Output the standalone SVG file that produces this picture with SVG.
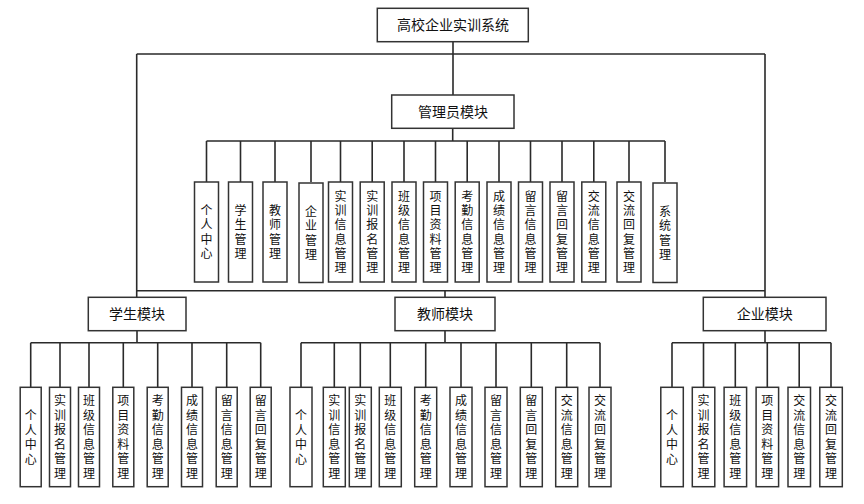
<svg xmlns="http://www.w3.org/2000/svg" width="864" height="504" viewBox="0 0 864 504">
<style>
.box{fill:#fff;stroke:#333;stroke-width:1.5}
.t{font-family:"Liberation Sans","Noto Sans CJK SC",sans-serif;font-size:14px;text-anchor:middle;fill:#111}
.v{font-family:"Liberation Sans","Noto Sans CJK SC",sans-serif;font-size:12px;text-anchor:middle;fill:#111}
.c{stroke:#2a2a2a;stroke-width:1.6;fill:none}
</style>
<rect width="864" height="504" fill="#fff"/>
<g id="connectors">
<path class="c" d="M453,41.7V95 M136.7,54H765 M136.7,54V297 M765,54V297 M136.7,290.7H765 M445,290.7V297"/>
<path class="c" d="M452.7,128.3V141 M206.5,141H665 M206.5,141V182 M240.5,141V182 M275,141V182 M311,141V182 M340.5,141V182 M372.2,141V182 M404,141V182 M435.5,141V182 M467.2,141V182 M499,141V182 M530.5,141V182 M562,141V182 M593.8,141V182 M629,141V182 M665,141V182"/>
<path class="c" d="M137,330.7V342.7 M30.7,342.7H260.7 M30.7,342.7V387.3 M60,342.7V387.3 M89,342.7V387.3 M123.3,342.7V387.3 M157.7,342.7V387.3 M192,342.7V387.3 M226.7,342.7V387.3 M260.7,342.7V387.3"/>
<path class="c" d="M445,330.7V342.7 M301,342.7H600 M301,342.7V387.3 M334.3,342.7V387.3 M360.3,342.7V387.3 M390.3,342.7V387.3 M425.7,342.7V387.3 M461,342.7V387.3 M496,342.7V387.3 M531.3,342.7V387.3 M566.7,342.7V387.3 M600,342.7V387.3"/>
<path class="c" d="M765,330.7V342.7 M672,342.7H831 M672,342.7V387.3 M703.5,342.7V387.3 M735.3,342.7V387.3 M767.3,342.7V387.3 M799.2,342.7V387.3 M831,342.7V387.3"/>
</g>
<g id="root"><rect class="box" x="377.3" y="8.3" width="151" height="33.4"/><text class="t" x="453" y="30">高校企业实训系统</text></g>
<g id="admin"><rect class="box" x="391.7" y="95" width="122.3" height="33.3"/><text class="t" x="453" y="116.7">管理员模块</text></g>
<g id="student"><rect class="box" x="88.3" y="297.3" width="97.7" height="33.4"/><text class="t" x="137" y="319">学生模块</text></g>
<g id="teacher"><rect class="box" x="395" y="297.3" width="100" height="33.4"/><text class="t" x="445" y="319">教师模块</text></g>
<g id="enterprise"><rect class="box" x="703.3" y="297.3" width="122.7" height="33.4"/><text class="t" x="764.7" y="319">企业模块</text></g>

<g id="a1"><rect class="box" x="194.5" y="182" width="24" height="100"/><text class="v"><tspan x="206.5" y="215">个</tspan><tspan x="206.5" y="229.3">人</tspan><tspan x="206.5" y="243.6">中</tspan><tspan x="206.5" y="257.9">心</tspan></text></g>
<g id="a2"><rect class="box" x="228.5" y="182" width="24" height="100"/><text class="v"><tspan x="240.5" y="215">学</tspan><tspan x="240.5" y="229.3">生</tspan><tspan x="240.5" y="243.6">管</tspan><tspan x="240.5" y="257.9">理</tspan></text></g>
<g id="a3"><rect class="box" x="263" y="182" width="24" height="100"/><text class="v"><tspan x="275" y="215">教</tspan><tspan x="275" y="229.3">师</tspan><tspan x="275" y="243.6">管</tspan><tspan x="275" y="257.9">理</tspan></text></g>
<g id="a4"><rect class="box" x="299" y="183" width="24" height="99.5"/><text class="v"><tspan x="311" y="216">企</tspan><tspan x="311" y="230.3">业</tspan><tspan x="311" y="244.6">管</tspan><tspan x="311" y="258.9">理</tspan></text></g>
<g id="a5"><rect class="box" x="328.5" y="182" width="24" height="100"/><text class="v"><tspan x="340.5" y="200.7">实</tspan><tspan x="340.5" y="215">训</tspan><tspan x="340.5" y="229.3">信</tspan><tspan x="340.5" y="243.6">息</tspan><tspan x="340.5" y="257.9">管</tspan><tspan x="340.5" y="272.2">理</tspan></text></g>
<g id="a6"><rect class="box" x="360.2" y="182" width="24" height="100"/><text class="v"><tspan x="372.2" y="200.7">实</tspan><tspan x="372.2" y="215">训</tspan><tspan x="372.2" y="229.3">报</tspan><tspan x="372.2" y="243.6">名</tspan><tspan x="372.2" y="257.9">管</tspan><tspan x="372.2" y="272.2">理</tspan></text></g>
<g id="a7"><rect class="box" x="392" y="182" width="24" height="100"/><text class="v"><tspan x="404" y="200.7">班</tspan><tspan x="404" y="215">级</tspan><tspan x="404" y="229.3">信</tspan><tspan x="404" y="243.6">息</tspan><tspan x="404" y="257.9">管</tspan><tspan x="404" y="272.2">理</tspan></text></g>
<g id="a8"><rect class="box" x="423.5" y="182" width="24" height="100"/><text class="v"><tspan x="435.5" y="200.7">项</tspan><tspan x="435.5" y="215">目</tspan><tspan x="435.5" y="229.3">资</tspan><tspan x="435.5" y="243.6">料</tspan><tspan x="435.5" y="257.9">管</tspan><tspan x="435.5" y="272.2">理</tspan></text></g>
<g id="a9"><rect class="box" x="455.2" y="182" width="24" height="100"/><text class="v"><tspan x="467.2" y="200.7">考</tspan><tspan x="467.2" y="215">勤</tspan><tspan x="467.2" y="229.3">信</tspan><tspan x="467.2" y="243.6">息</tspan><tspan x="467.2" y="257.9">管</tspan><tspan x="467.2" y="272.2">理</tspan></text></g>
<g id="a10"><rect class="box" x="487" y="182" width="24" height="100"/><text class="v"><tspan x="499" y="200.7">成</tspan><tspan x="499" y="215">绩</tspan><tspan x="499" y="229.3">信</tspan><tspan x="499" y="243.6">息</tspan><tspan x="499" y="257.9">管</tspan><tspan x="499" y="272.2">理</tspan></text></g>
<g id="a11"><rect class="box" x="518.5" y="182" width="24" height="100"/><text class="v"><tspan x="530.5" y="200.7">留</tspan><tspan x="530.5" y="215">言</tspan><tspan x="530.5" y="229.3">信</tspan><tspan x="530.5" y="243.6">息</tspan><tspan x="530.5" y="257.9">管</tspan><tspan x="530.5" y="272.2">理</tspan></text></g>
<g id="a12"><rect class="box" x="550" y="182" width="24" height="100"/><text class="v"><tspan x="562" y="200.7">留</tspan><tspan x="562" y="215">言</tspan><tspan x="562" y="229.3">回</tspan><tspan x="562" y="243.6">复</tspan><tspan x="562" y="257.9">管</tspan><tspan x="562" y="272.2">理</tspan></text></g>
<g id="a13"><rect class="box" x="581.8" y="182" width="24" height="100"/><text class="v"><tspan x="593.8" y="200.7">交</tspan><tspan x="593.8" y="215">流</tspan><tspan x="593.8" y="229.3">信</tspan><tspan x="593.8" y="243.6">息</tspan><tspan x="593.8" y="257.9">管</tspan><tspan x="593.8" y="272.2">理</tspan></text></g>
<g id="a14"><rect class="box" x="617" y="182" width="24" height="100"/><text class="v"><tspan x="629" y="200.7">交</tspan><tspan x="629" y="215">流</tspan><tspan x="629" y="229.3">回</tspan><tspan x="629" y="243.6">复</tspan><tspan x="629" y="257.9">管</tspan><tspan x="629" y="272.2">理</tspan></text></g>
<g id="a15"><rect class="box" x="653" y="183" width="24" height="99.5"/><text class="v"><tspan x="665" y="216">系</tspan><tspan x="665" y="230.3">统</tspan><tspan x="665" y="244.6">管</tspan><tspan x="665" y="258.9">理</tspan></text></g>

<g id="s1"><rect class="box" x="20.2" y="387.3" width="21" height="99.4"/><text class="v"><tspan x="30.7" y="420">个</tspan><tspan x="30.7" y="434.5">人</tspan><tspan x="30.7" y="449">中</tspan><tspan x="30.7" y="463.5">心</tspan></text></g>
<g id="s2"><rect class="box" x="49.5" y="387.3" width="21" height="99.4"/><text class="v"><tspan x="60" y="405.3">实</tspan><tspan x="60" y="419.8">训</tspan><tspan x="60" y="434.3">报</tspan><tspan x="60" y="448.8">名</tspan><tspan x="60" y="463.3">管</tspan><tspan x="60" y="477.8">理</tspan></text></g>
<g id="s3"><rect class="box" x="78.5" y="387.3" width="21" height="99.4"/><text class="v"><tspan x="89" y="405.3">班</tspan><tspan x="89" y="419.8">级</tspan><tspan x="89" y="434.3">信</tspan><tspan x="89" y="448.8">息</tspan><tspan x="89" y="463.3">管</tspan><tspan x="89" y="477.8">理</tspan></text></g>
<g id="s4"><rect class="box" x="112.8" y="387.3" width="21" height="99.4"/><text class="v"><tspan x="123.3" y="405.3">项</tspan><tspan x="123.3" y="419.8">目</tspan><tspan x="123.3" y="434.3">资</tspan><tspan x="123.3" y="448.8">料</tspan><tspan x="123.3" y="463.3">管</tspan><tspan x="123.3" y="477.8">理</tspan></text></g>
<g id="s5"><rect class="box" x="147.2" y="387.3" width="21" height="99.4"/><text class="v"><tspan x="157.7" y="405.3">考</tspan><tspan x="157.7" y="419.8">勤</tspan><tspan x="157.7" y="434.3">信</tspan><tspan x="157.7" y="448.8">息</tspan><tspan x="157.7" y="463.3">管</tspan><tspan x="157.7" y="477.8">理</tspan></text></g>
<g id="s6"><rect class="box" x="181.5" y="387.3" width="21" height="99.4"/><text class="v"><tspan x="192" y="405.3">成</tspan><tspan x="192" y="419.8">绩</tspan><tspan x="192" y="434.3">信</tspan><tspan x="192" y="448.8">息</tspan><tspan x="192" y="463.3">管</tspan><tspan x="192" y="477.8">理</tspan></text></g>
<g id="s7"><rect class="box" x="216.2" y="387.3" width="21" height="99.4"/><text class="v"><tspan x="226.7" y="405.3">留</tspan><tspan x="226.7" y="419.8">言</tspan><tspan x="226.7" y="434.3">信</tspan><tspan x="226.7" y="448.8">息</tspan><tspan x="226.7" y="463.3">管</tspan><tspan x="226.7" y="477.8">理</tspan></text></g>
<g id="s8"><rect class="box" x="250.2" y="387.3" width="21" height="99.4"/><text class="v"><tspan x="260.7" y="405.3">留</tspan><tspan x="260.7" y="419.8">言</tspan><tspan x="260.7" y="434.3">回</tspan><tspan x="260.7" y="448.8">复</tspan><tspan x="260.7" y="463.3">管</tspan><tspan x="260.7" y="477.8">理</tspan></text></g>

<g id="t1"><rect class="box" x="290" y="387.3" width="22" height="99.4"/><text class="v"><tspan x="301" y="420">个</tspan><tspan x="301" y="434.5">人</tspan><tspan x="301" y="449">中</tspan><tspan x="301" y="463.5">心</tspan></text></g>
<g id="t2"><rect class="box" x="323.3" y="387.3" width="22" height="99.4"/><text class="v"><tspan x="334.3" y="405.3">实</tspan><tspan x="334.3" y="419.8">训</tspan><tspan x="334.3" y="434.3">信</tspan><tspan x="334.3" y="448.8">息</tspan><tspan x="334.3" y="463.3">管</tspan><tspan x="334.3" y="477.8">理</tspan></text></g>
<g id="t3"><rect class="box" x="349.3" y="387.3" width="22" height="99.4"/><text class="v"><tspan x="360.3" y="405.3">实</tspan><tspan x="360.3" y="419.8">训</tspan><tspan x="360.3" y="434.3">报</tspan><tspan x="360.3" y="448.8">名</tspan><tspan x="360.3" y="463.3">管</tspan><tspan x="360.3" y="477.8">理</tspan></text></g>
<g id="t4"><rect class="box" x="379.3" y="387.3" width="22" height="99.4"/><text class="v"><tspan x="390.3" y="405.3">班</tspan><tspan x="390.3" y="419.8">级</tspan><tspan x="390.3" y="434.3">信</tspan><tspan x="390.3" y="448.8">息</tspan><tspan x="390.3" y="463.3">管</tspan><tspan x="390.3" y="477.8">理</tspan></text></g>
<g id="t5"><rect class="box" x="414.7" y="387.3" width="22" height="99.4"/><text class="v"><tspan x="425.7" y="405.3">考</tspan><tspan x="425.7" y="419.8">勤</tspan><tspan x="425.7" y="434.3">信</tspan><tspan x="425.7" y="448.8">息</tspan><tspan x="425.7" y="463.3">管</tspan><tspan x="425.7" y="477.8">理</tspan></text></g>
<g id="t6"><rect class="box" x="450" y="387.3" width="22" height="99.4"/><text class="v"><tspan x="461" y="405.3">成</tspan><tspan x="461" y="419.8">绩</tspan><tspan x="461" y="434.3">信</tspan><tspan x="461" y="448.8">息</tspan><tspan x="461" y="463.3">管</tspan><tspan x="461" y="477.8">理</tspan></text></g>
<g id="t7"><rect class="box" x="485" y="387.3" width="22" height="99.4"/><text class="v"><tspan x="496" y="405.3">留</tspan><tspan x="496" y="419.8">言</tspan><tspan x="496" y="434.3">信</tspan><tspan x="496" y="448.8">息</tspan><tspan x="496" y="463.3">管</tspan><tspan x="496" y="477.8">理</tspan></text></g>
<g id="t8"><rect class="box" x="520.3" y="387.3" width="22" height="99.4"/><text class="v"><tspan x="531.3" y="405.3">留</tspan><tspan x="531.3" y="419.8">言</tspan><tspan x="531.3" y="434.3">回</tspan><tspan x="531.3" y="448.8">复</tspan><tspan x="531.3" y="463.3">管</tspan><tspan x="531.3" y="477.8">理</tspan></text></g>
<g id="t9"><rect class="box" x="555.7" y="387.3" width="22" height="99.4"/><text class="v"><tspan x="566.7" y="405.3">交</tspan><tspan x="566.7" y="419.8">流</tspan><tspan x="566.7" y="434.3">信</tspan><tspan x="566.7" y="448.8">息</tspan><tspan x="566.7" y="463.3">管</tspan><tspan x="566.7" y="477.8">理</tspan></text></g>
<g id="t10"><rect class="box" x="589" y="387.3" width="22" height="99.4"/><text class="v"><tspan x="600" y="405.3">交</tspan><tspan x="600" y="419.8">流</tspan><tspan x="600" y="434.3">回</tspan><tspan x="600" y="448.8">复</tspan><tspan x="600" y="463.3">管</tspan><tspan x="600" y="477.8">理</tspan></text></g>

<g id="e1"><rect class="box" x="660.8" y="387.3" width="22.5" height="99.4"/><text class="v"><tspan x="672" y="420">个</tspan><tspan x="672" y="434.5">人</tspan><tspan x="672" y="449">中</tspan><tspan x="672" y="463.5">心</tspan></text></g>
<g id="e2"><rect class="box" x="692.3" y="387.3" width="22.5" height="99.4"/><text class="v"><tspan x="703.5" y="405.3">实</tspan><tspan x="703.5" y="419.8">训</tspan><tspan x="703.5" y="434.3">报</tspan><tspan x="703.5" y="448.8">名</tspan><tspan x="703.5" y="463.3">管</tspan><tspan x="703.5" y="477.8">理</tspan></text></g>
<g id="e3"><rect class="box" x="724.1" y="387.3" width="22.5" height="99.4"/><text class="v"><tspan x="735.3" y="405.3">班</tspan><tspan x="735.3" y="419.8">级</tspan><tspan x="735.3" y="434.3">信</tspan><tspan x="735.3" y="448.8">息</tspan><tspan x="735.3" y="463.3">管</tspan><tspan x="735.3" y="477.8">理</tspan></text></g>
<g id="e4"><rect class="box" x="756.1" y="387.3" width="22.5" height="99.4"/><text class="v"><tspan x="767.3" y="405.3">项</tspan><tspan x="767.3" y="419.8">目</tspan><tspan x="767.3" y="434.3">资</tspan><tspan x="767.3" y="448.8">料</tspan><tspan x="767.3" y="463.3">管</tspan><tspan x="767.3" y="477.8">理</tspan></text></g>
<g id="e5"><rect class="box" x="788" y="387.3" width="22.5" height="99.4"/><text class="v"><tspan x="799.2" y="405.3">交</tspan><tspan x="799.2" y="419.8">流</tspan><tspan x="799.2" y="434.3">信</tspan><tspan x="799.2" y="448.8">息</tspan><tspan x="799.2" y="463.3">管</tspan><tspan x="799.2" y="477.8">理</tspan></text></g>
<g id="e6"><rect class="box" x="819.8" y="387.3" width="22.5" height="99.4"/><text class="v"><tspan x="831" y="405.3">交</tspan><tspan x="831" y="419.8">流</tspan><tspan x="831" y="434.3">回</tspan><tspan x="831" y="448.8">复</tspan><tspan x="831" y="463.3">管</tspan><tspan x="831" y="477.8">理</tspan></text></g>
</svg>
